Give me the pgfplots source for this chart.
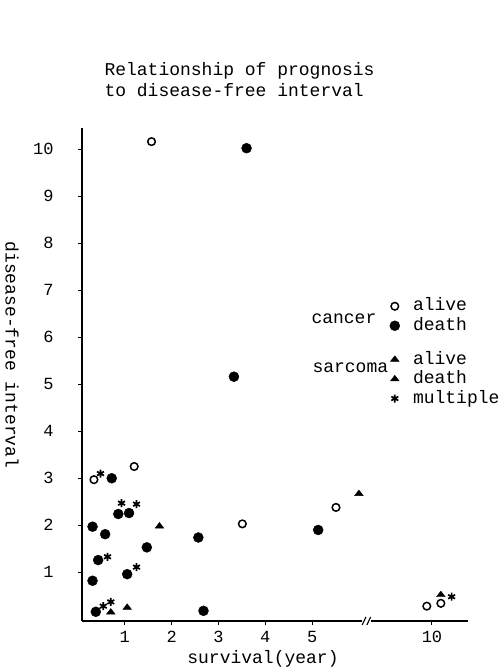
\documentclass[border=0pt]{standalone}
\usepackage{fontspec}
\setmainfont{Liberation Mono}
\usepackage{pgfplots}
\pgfplotsset{compat=1.18}

% x values are plotted on the drawn scale: 1..5 as read, the "10" group at 7.56 (after the break)
\pgfplotsset{
  base/.style={
    at={(axisSW)}, anchor=south west, scale only axis,
    width=386bp, height=493bp,
    xmin=0.085, xmax=8.33, ymin=-0.036, ymax=10.45,
    clip=false,
  },
  leg/.style={
    legend cell align=left,
    legend image code/.code={\path (-9bp,0bp) (9bp,0bp); \draw[##1] plot coordinates {(0bp,0bp)};},
    legend style={draw=none, fill=none, inner sep=0pt, row sep=4.5bp,
      column sep=9bp, anchor=north west,
      nodes={inner sep=0pt, text height=12bp, text depth=3bp,
        font=\fontsize{18bp}{20bp}\selectfont}},
  },
}

\begin{document}
\begin{tikzpicture}[x=1bp,y=1bp]
\useasboundingbox (0,0) rectangle (503,669);
\coordinate (axisSW) at (82,48);
\tikzset{every node/.style={font=\fontsize{18bp}{20bp}\selectfont}}

\node[anchor=base west] at (101,593) {Relationship of prognosis};
\node[anchor=base west] at (101,572.5) {to disease-free interval};

\begin{axis}[base, leg,
  axis lines=left,
  y axis line style={-, line width=1.6bp},
  x axis line style={draw=none},
  tick align=outside, major tick length=4bp,
  tick style={line width=1bp, black},
  xtick={1,2,3,4,5,7.56}, xticklabels={1,2,3,4,5,10},
  ytick={1,2,...,10},
  ticklabel style={font=\fontsize{17bp}{19bp}\selectfont},
  /pgf/number format/assume math mode=true,
  xticklabel style={yshift=-3bp},
  yticklabel style={xshift=-21bp},
  legend style={at={(0.786,0.654)}},
]
% cancer, alive
\addplot[only marks, mark=o, mark size=3.8bp, mark options={line width=1.5bp}]
coordinates {
 (0.34,2.97) (1.20,3.25) (3.51,2.03) (1.57,10.16) (5.51,2.38) (7.45,0.28) (7.75,0.34)
};
% cancer, death
\addplot[only marks, mark=*, mark size=5bp]
coordinates {
 (0.72,3.00) (0.86,2.24) (1.09,2.26) (0.31,1.97) (0.58,1.81) (2.57,1.74)
 (1.47,1.53) (0.43,1.26) (0.31,0.82) (1.05,0.96) (0.38,0.16) (2.68,0.18)
 (3.60,10.02) (3.33,5.16) (5.13,1.90)
};
\legend{alive, death}

% broken x axis
\draw[line width=1.4bp] (axis cs:0.085,-0.036) -- (axis cs:6.07,-0.036);
\draw[line width=1.4bp] (axis cs:6.26,-0.036) -- (axis cs:8.33,-0.036);
\draw[line width=1.1bp] (axis cs:6.07,-0.12) -- (axis cs:6.15,0.05);
\draw[line width=1.1bp] (axis cs:6.17,-0.12) -- (axis cs:6.25,0.05);
\end{axis}

\begin{axis}[base, leg, hide axis, legend style={at={(0.786,0.546)}}]
% sarcoma, alive
\addplot[only marks, mark=triangle*, mark size=5bp, mark options={yscale=0.75}]
coordinates { (6.00,2.67) (7.75,0.52) };
% sarcoma, death
\addplot[only marks, mark=triangle*, mark size=5bp, mark options={yscale=0.75}]
coordinates { (1.74,1.98) (0.70,0.15) (1.05,0.25) };
% multiple
\addplot[only marks, mark=asterisk, mark size=4bp, mark options={line width=1.7bp}]
coordinates {
 (0.48,3.10) (0.93,2.47) (1.25,2.45) (0.63,1.33) (1.25,1.11) (0.54,0.28) (0.70,0.37) (7.98,0.48)
};
\legend{alive, death, multiple}
\end{axis}

\node[anchor=base west] at (308,345) {cancer};
\node[anchor=base west] at (309,296) {sarcoma};
\node[anchor=base] at (263,5) {survival(year)};
\node[rotate=-90] at (12,314) {disease-free interval};
\end{tikzpicture}
\end{document}
